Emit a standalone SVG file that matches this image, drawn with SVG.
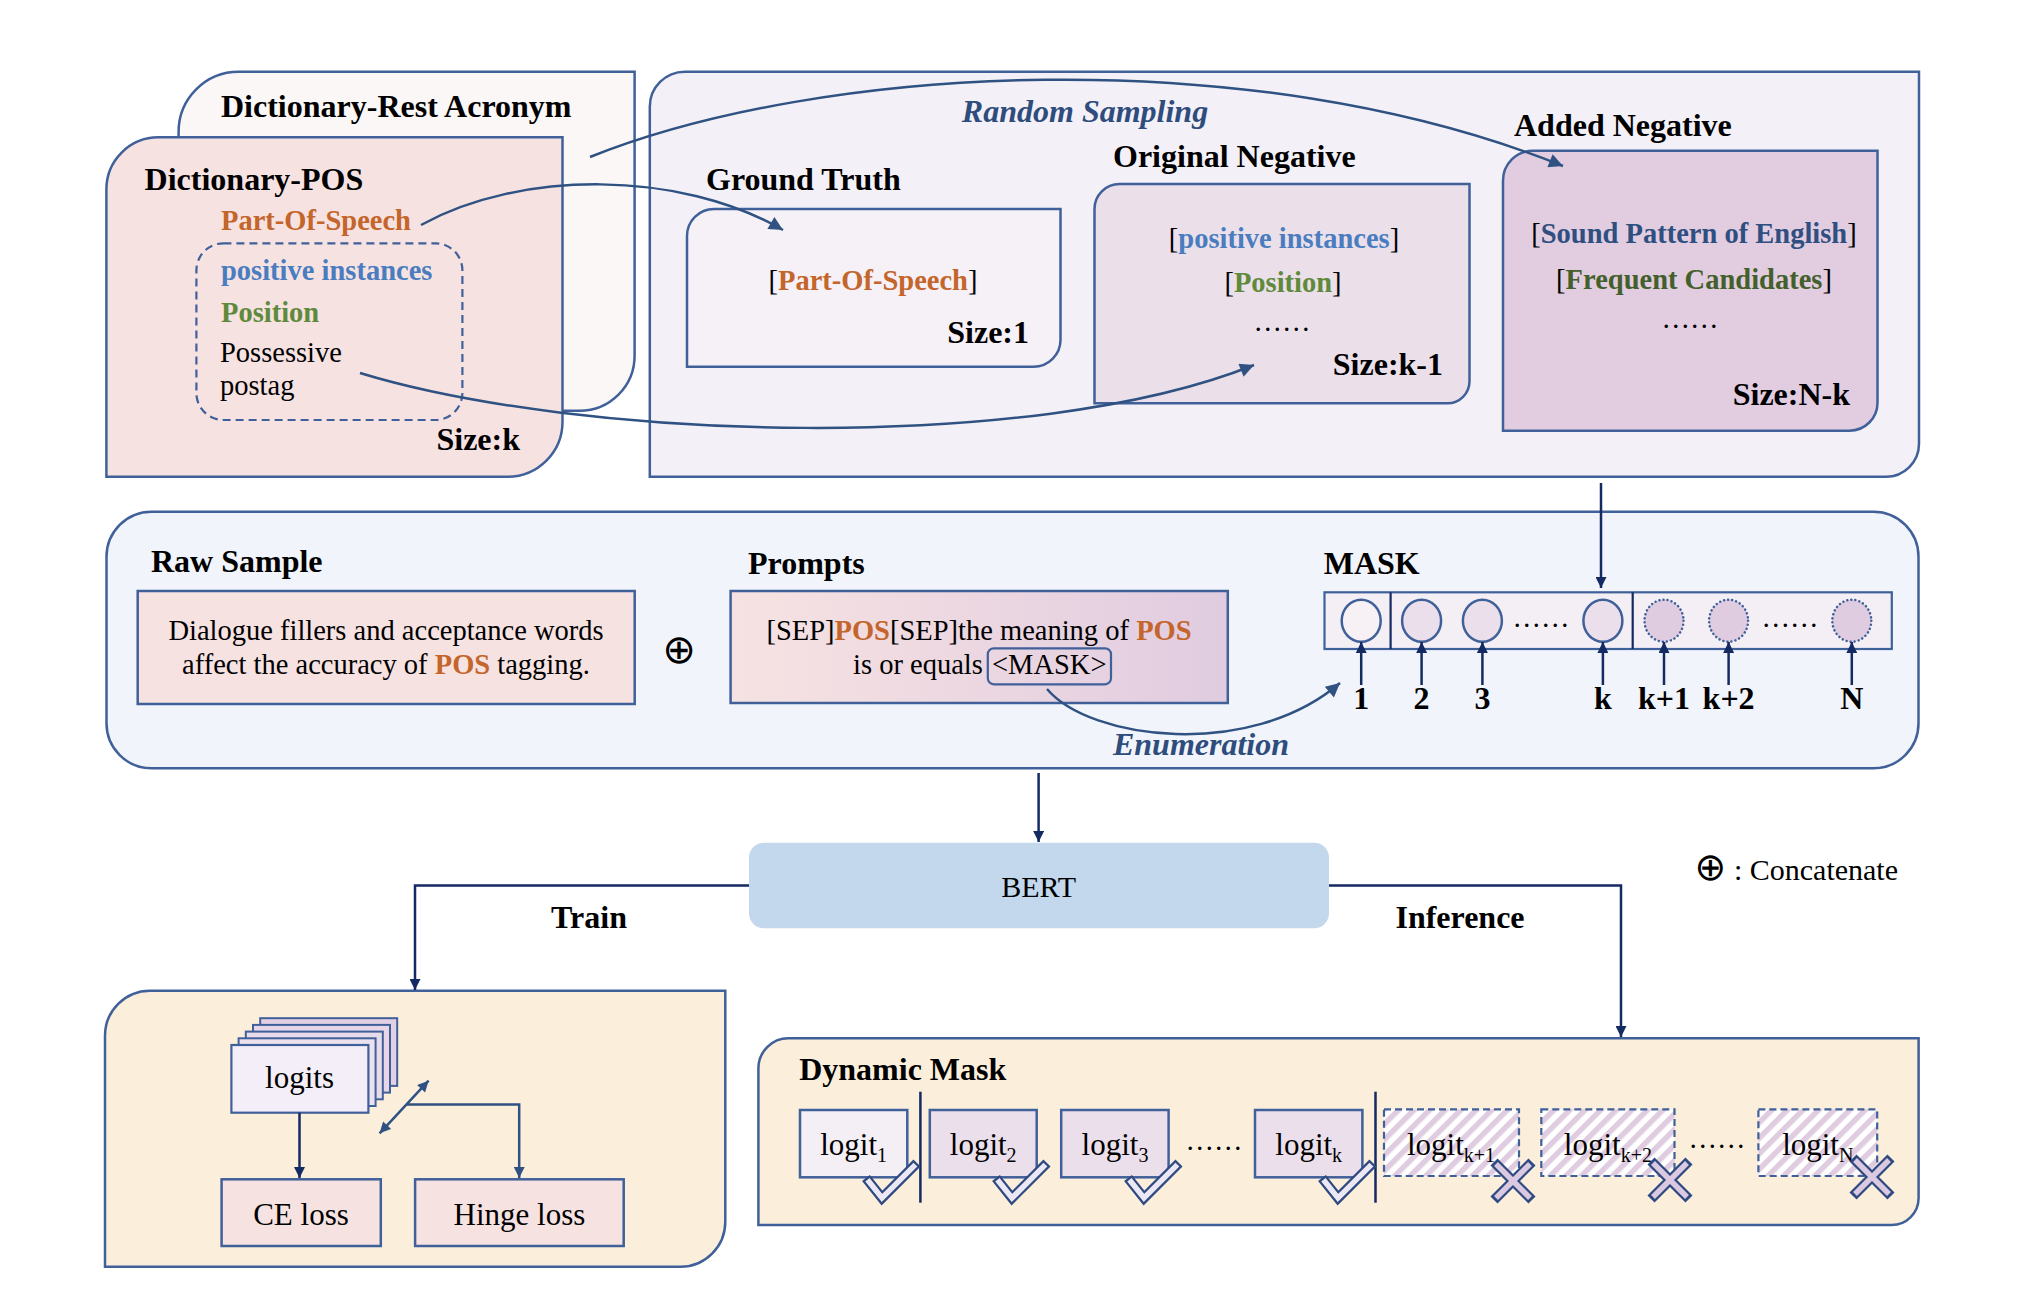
<svg xmlns="http://www.w3.org/2000/svg" width="2020" height="1310" viewBox="0 0 2020 1310">
<style>
text{font-family:"Liberation Serif","DejaVu Serif",serif;fill:#000}
.h{font-size:32px;font-weight:bold}
.t{font-size:28.5px}
.b{font-weight:bold}
.or{fill:#c4652b;font-weight:bold}
.bl{fill:#4a7dbf;font-weight:bold}
.gr{fill:#5f8a3c;font-weight:bold}
.db{fill:#2f4f80;font-weight:bold}
.dg{fill:#435f2b;font-weight:bold}
.it{fill:#2e4c7c;font-weight:bold;font-style:italic;font-size:32px}
.box{stroke:#40609a;stroke-width:2.5}
.c1{stroke:#2f5282;stroke-width:2.5;fill:none}
.nv{stroke:#142a63;stroke-width:2.5;fill:none}
.sub{font-size:20px}
.lg{font-size:31px}
.op{font-family:"DejaVu Sans",sans-serif}
.ck1{fill:none;stroke:#2f4a80;stroke-width:10;stroke-linejoin:miter}
.ck2{fill:none;stroke:#ece7f4;stroke-width:5.5;stroke-linejoin:miter}
.x2{fill:none;stroke:#dac9e0;stroke-width:5.5}
</style>
<defs>
<marker id="ah" viewBox="0 0 10 10" refX="10" refY="5" markerUnits="userSpaceOnUse" markerWidth="18" markerHeight="14" orient="auto"><path d="M0,0L10,5L0,10z" fill="#2f5282"/></marker>
<marker id="an" viewBox="0 0 10 10" refX="10" refY="5" markerUnits="userSpaceOnUse" markerWidth="14" markerHeight="11" orient="auto"><path d="M0,0L10,5L0,10z" fill="#142a63"/></marker>
<marker id="ab" viewBox="0 0 10 10" refX="10" refY="5" markerUnits="userSpaceOnUse" markerWidth="14" markerHeight="11" orient="auto-start-reverse"><path d="M0,0L10,5L0,10z" fill="#2f5282"/></marker>
<linearGradient id="pg" x1="0" x2="1" y1="0" y2="0"><stop offset="0" stop-color="#f7e2e2"/><stop offset="1" stop-color="#e0cce0"/></linearGradient>
<pattern id="hatch" width="11" height="11" patternUnits="userSpaceOnUse" patternTransform="rotate(45)"><rect width="11" height="11" fill="#ffffff"/><rect width="5.5" height="11" fill="#e0cce0"/></pattern>
<g id="check"><polyline class="ck1" points="-16,-20 0,0 35,-35"/><polyline class="ck2" points="-14.6,-18.3 0,0 33.4,-33.4"/></g>
<g id="cross"><path class="ck1" d="M-19,-19L19,19M-19,19L19,-19"/><path class="x2" d="M-17,-17L17,17M-17,17L17,-17"/></g>
</defs>

<rect width="2020" height="1310" fill="#ffffff"/>

<!-- Top left: dictionaries -->
<g id="dict-rest">
<path class="box" fill="#fbf7f7" d="M238.6,71.7H634.6V355.7A55,55 0 0 1 579.6,410.7H178.6V131.7A60,60 0 0 1 238.6,71.7Z"/>
<text class="h" x="221" y="117">Dictionary-Rest Acronym</text>
</g>
<g id="dict-pos">
<path class="box" fill="#f7e2e2" d="M158.4,137.3H562.5V421.7A55,55 0 0 1 507.5,476.7H106.4V189.3A52,52 0 0 1 158.4,137.3Z"/>
<text class="h" x="144.6" y="190">Dictionary-POS</text>
<text class="t or" x="221" y="230">Part-Of-Speech</text>
<rect x="196.4" y="243.3" width="266" height="176.7" rx="27" fill="none" stroke="#40609a" stroke-width="2.2" stroke-dasharray="8,5"/>
<text class="t bl" x="221" y="280">positive instances</text>
<text class="t gr" x="221" y="321.7">Position</text>
<text class="t" x="220" y="361.7">Possessive</text>
<text class="t" x="220" y="395">postag</text>
<text class="h" x="520" y="450" text-anchor="end">Size:k</text>
</g>

<!-- Random sampling container -->
<g id="sampling">
<path class="box" fill="#f3f1f7" d="M684.8,71.7H1919V443.7A33,33 0 0 1 1886,476.7H649.8V106.7A35,35 0 0 1 684.8,71.7Z"/>
<text class="it" x="1085" y="121.7" text-anchor="middle">Random Sampling</text>
</g>
<g id="ground-truth">
<text class="h" x="706" y="190">Ground Truth</text>
<path class="box" fill="#f5f1f7" d="M714,209H1060.5V339.7A27,27 0 0 1 1033.5,366.7H687V236A27,27 0 0 1 714,209Z"/>
<text class="t" x="873" y="290" text-anchor="middle">[<tspan class="or">Part-Of-Speech</tspan>]</text>
<text class="h" x="1029" y="343" text-anchor="end">Size:1</text>
</g>
<g id="original-negative">
<text class="h" x="1113" y="166.7">Original Negative</text>
<path class="box" fill="#ebe0ea" d="M1119.5,184H1469.5V381.3A22,22 0 0 1 1447.5,403.3H1094.5V209A25,25 0 0 1 1119.5,184Z"/>
<text class="t" x="1284" y="248" text-anchor="middle">[<tspan class="bl">positive instances</tspan>]</text>
<text class="t" x="1283" y="291.7" text-anchor="middle">[<tspan class="gr">Position</tspan>]</text>
<text class="t" x="1282" y="331" text-anchor="middle">……</text>
<text class="h" x="1443" y="375" text-anchor="end">Size:k-1</text>
</g>
<g id="added-negative">
<text class="h" x="1514" y="136">Added Negative</text>
<path class="box" fill="#e1cce0" d="M1533,150.7H1877.5V402.7A28,28 0 0 1 1849.5,430.7H1503V180.7A30,30 0 0 1 1533,150.7Z"/>
<text class="t" x="1694" y="242.7" text-anchor="middle">[<tspan class="db">Sound Pattern of English</tspan>]</text>
<text class="t" x="1694" y="289" text-anchor="middle">[<tspan class="dg">Frequent Candidates</tspan>]</text>
<text class="t" x="1690" y="328" text-anchor="middle">……</text>
<text class="h" x="1850" y="405" text-anchor="end">Size:N-k</text>
</g>

<!-- Middle container -->
<g id="input">
<rect class="box" x="106.5" y="511.7" width="1812" height="256.6" rx="45" fill="#f1f4fa"/>
</g>
<g id="raw-sample">
<text class="h" x="151" y="571.7">Raw Sample</text>
<rect class="box" x="137.7" y="591" width="497" height="113" fill="#f7e2e2"/>
<text class="t" x="386" y="640" text-anchor="middle">Dialogue fillers and acceptance words</text>
<text class="t" x="386" y="674" text-anchor="middle">affect the accuracy of <tspan class="or">POS</tspan> tagging.</text>
</g>
<g id="concat">
<text class="op" x="679" y="663" font-size="40" text-anchor="middle">⊕</text>
</g>
<g id="prompts">
<text class="h" x="748" y="574">Prompts</text>
<rect class="box" x="730.6" y="591" width="497.2" height="112" fill="url(#pg)"/>
<text class="t" x="979" y="640" text-anchor="middle">[SEP]<tspan class="or">POS</tspan>[SEP]the meaning of <tspan class="or">POS</tspan></text>
<text class="t" x="853" y="674">is or equals <tspan x="992">&lt;MASK&gt;</tspan></text>
<rect x="987.8" y="648.3" width="123.2" height="36" rx="6" fill="none" stroke="#40609a" stroke-width="2.2"/>
</g>
<g id="mask">
<text class="h" x="1323.7" y="574">MASK</text>
<rect x="1324.5" y="592.3" width="567.3" height="56.7" fill="#f3eff5" stroke="#40609a" stroke-width="2.2"/>
<line x1="1390.6" y1="592.3" x2="1390.6" y2="649" stroke="#142a63" stroke-width="2.2"/>
<line x1="1632.7" y1="592.3" x2="1632.7" y2="649" stroke="#142a63" stroke-width="2.2"/>
<ellipse cx="1361.2" cy="620.7" rx="19.5" ry="21" fill="#f7f0f5" stroke="#40609a" stroke-width="2.5"/>
<ellipse cx="1421.6" cy="620.7" rx="19.5" ry="21" fill="#ebdfeb" stroke="#40609a" stroke-width="2.5"/>
<ellipse cx="1482.4" cy="620.7" rx="19.5" ry="21" fill="#ebdfeb" stroke="#40609a" stroke-width="2.5"/>
<ellipse cx="1602.9" cy="620.7" rx="19.5" ry="21" fill="#ebdfeb" stroke="#40609a" stroke-width="2.5"/>
<ellipse cx="1664" cy="620.7" rx="19.5" ry="21" fill="#e0cce0" stroke="#40609a" stroke-width="2.5" stroke-dasharray="0.1,4" stroke-linecap="round"/>
<ellipse cx="1728.6" cy="620.7" rx="19.5" ry="21" fill="#e0cce0" stroke="#40609a" stroke-width="2.5" stroke-dasharray="0.1,4" stroke-linecap="round"/>
<ellipse cx="1851.8" cy="620.7" rx="19.5" ry="21" fill="#e0cce0" stroke="#40609a" stroke-width="2.5" stroke-dasharray="0.1,4" stroke-linecap="round"/>
<text class="t" x="1541" y="627" text-anchor="middle">……</text>
<text class="t" x="1790" y="627" text-anchor="middle">……</text>
<text class="h" x="1361.2" y="709.3" text-anchor="middle">1</text>
<text class="h" x="1421.6" y="709.3" text-anchor="middle">2</text>
<text class="h" x="1482.4" y="709.3" text-anchor="middle">3</text>
<text class="h" x="1602.9" y="709.3" text-anchor="middle">k</text>
<text class="h" x="1664" y="709.3" text-anchor="middle">k+1</text>
<text class="h" x="1728.6" y="709.3" text-anchor="middle">k+2</text>
<text class="h" x="1851.8" y="709.3" text-anchor="middle">N</text>
</g>

<!-- BERT -->
<g id="bert">
<rect x="749" y="842.7" width="580" height="85.6" rx="15" fill="#c3d8ec"/>
<text x="1038.6" y="897" font-size="30" text-anchor="middle">BERT</text>
</g>
<g id="legend">
<text x="1898" y="880" font-size="30" text-anchor="end"><tspan class="op" font-size="38">⊕</tspan> : Concatenate</text>
</g>

<!-- Train -->
<g id="train">
<path class="box" fill="#fbefdc" d="M150,990.7H725.3V1221.7A45,45 0 0 1 680.3,1266.7H105V1035.7A45,45 0 0 1 150,990.7Z"/>
<rect x="260.2" y="1018.2" width="137" height="67.7" fill="#e3d0e5" stroke="#40609a" stroke-width="2"/>
<rect x="253" y="1024.9" width="137" height="67.7" fill="#e6d6e8" stroke="#40609a" stroke-width="2"/>
<rect x="245.8" y="1031.6" width="137" height="67.7" fill="#e9dcea" stroke="#40609a" stroke-width="2"/>
<rect x="238.6" y="1038.3" width="137" height="67.7" fill="#ece2ee" stroke="#40609a" stroke-width="2"/>
<rect x="231.4" y="1045" width="137" height="67.7" fill="#f3eef7" stroke="#40609a" stroke-width="2.2"/>
<text class="lg" x="299.5" y="1088" text-anchor="middle">logits</text>
</g>
<g id="ce-loss">
<rect class="box" x="221.6" y="1179.3" width="159.2" height="66.7" fill="#f7e2e2"/>
<text class="lg" x="301" y="1225" text-anchor="middle">CE loss</text>
</g>
<g id="hinge-loss">
<rect class="box" x="415.1" y="1179.3" width="208.6" height="66.7" fill="#f7e2e2"/>
<text class="lg" x="519.4" y="1225" text-anchor="middle">Hinge loss</text>
</g>

<!-- Inference / Dynamic mask -->
<g id="dynamic-mask">
<path class="box" fill="#fbefdc" d="M788.4,1038.3H1918.6V1198A27,27 0 0 1 1891.6,1225H758.4V1068.3A30,30 0 0 1 788.4,1038.3Z"/>
<text class="h" x="799.2" y="1080">Dynamic Mask</text>
<line x1="920.4" y1="1091.7" x2="920.4" y2="1202.7" stroke="#142a63" stroke-width="2.5"/>
<line x1="1375.5" y1="1091.7" x2="1375.5" y2="1202.7" stroke="#142a63" stroke-width="2.5"/>
<g id="logit1"><rect class="box" x="800" y="1110" width="107.3" height="67.3" fill="#f3eff5"/>
<text class="lg" x="853.6" y="1155" text-anchor="middle">logit<tspan class="sub" dy="7">1</tspan></text>
<use href="#check" x="882" y="1198"/></g>
<g id="logit2"><rect class="box" x="929.8" y="1110" width="106.9" height="67.3" fill="#ebdfeb"/>
<text class="lg" x="983.2" y="1155" text-anchor="middle">logit<tspan class="sub" dy="7">2</tspan></text>
<use href="#check" x="1012" y="1198"/></g>
<g id="logit3"><rect class="box" x="1061.2" y="1110" width="107.4" height="67.3" fill="#ebdfeb"/>
<text class="lg" x="1115" y="1155" text-anchor="middle">logit<tspan class="sub" dy="7">3</tspan></text>
<use href="#check" x="1144" y="1198"/></g>
<text class="t" x="1214" y="1150" text-anchor="middle">……</text>
<g id="logitk"><rect class="box" x="1255" y="1110" width="107.4" height="67.3" fill="#ebdfeb"/>
<text class="lg" x="1308.7" y="1155" text-anchor="middle">logit<tspan class="sub" dy="7">k</tspan></text>
<use href="#check" x="1338" y="1198"/></g>
<g id="logitk1"><rect x="1384" y="1109.3" width="135" height="66.7" fill="url(#hatch)" stroke="#40609a" stroke-width="2.2" stroke-dasharray="7,4"/>
<text class="lg" x="1451" y="1155" text-anchor="middle">logit<tspan class="sub" dy="7">k+1</tspan></text>
<use href="#cross" x="1513" y="1181"/></g>
<g id="logitk2"><rect x="1541.3" y="1109.3" width="133.2" height="66.7" fill="url(#hatch)" stroke="#40609a" stroke-width="2.2" stroke-dasharray="7,4"/>
<text class="lg" x="1607.9" y="1155" text-anchor="middle">logit<tspan class="sub" dy="7">k+2</tspan></text>
<use href="#cross" x="1670" y="1180"/></g>
<text class="t" x="1717" y="1148" text-anchor="middle">……</text>
<g id="logitN"><rect x="1758.4" y="1109.3" width="118.8" height="66.7" fill="url(#hatch)" stroke="#40609a" stroke-width="2.2" stroke-dasharray="7,4"/>
<text class="lg" x="1817.8" y="1155" text-anchor="middle">logit<tspan class="sub" dy="7">N</tspan></text>
<use href="#cross" x="1872" y="1177"/></g>
</g>

<!-- Connectors -->
<g id="connectors">
<path class="c1" d="M590,157C820,65 1250,40 1563,166" marker-end="url(#ah)"/>
<path class="c1" d="M421,225C520,170 680,170 783,230" marker-end="url(#ah)"/>
<path class="c1" d="M360,373C580,440 1030,455 1254,365" marker-end="url(#ah)"/>
<path class="c1" d="M1047,689C1090,740 1250,760 1340,683" marker-end="url(#ah)"/>
<text class="it" x="1201" y="755" text-anchor="middle">Enumeration</text>
<line class="nv" x1="1601" y1="483" x2="1601" y2="588" marker-end="url(#an)"/>
<line class="nv" x1="1361.2" y1="685" x2="1361.2" y2="642" marker-end="url(#an)"/>
<line class="nv" x1="1421.6" y1="685" x2="1421.6" y2="642" marker-end="url(#an)"/>
<line class="nv" x1="1482.4" y1="685" x2="1482.4" y2="642" marker-end="url(#an)"/>
<line class="nv" x1="1602.9" y1="685" x2="1602.9" y2="642" marker-end="url(#an)"/>
<line class="nv" x1="1664" y1="685" x2="1664" y2="642" marker-end="url(#an)"/>
<line class="nv" x1="1728.6" y1="685" x2="1728.6" y2="642" marker-end="url(#an)"/>
<line class="nv" x1="1851.8" y1="685" x2="1851.8" y2="642" marker-end="url(#an)"/>
<line class="nv" x1="1038.6" y1="773" x2="1038.6" y2="842" marker-end="url(#an)"/>
<polyline class="nv" points="749,885.5 415,885.5 415,990" marker-end="url(#an)"/>
<text class="h" x="589" y="928" text-anchor="middle">Train</text>
<polyline class="nv" points="1329,885.5 1621,885.5 1621,1037" marker-end="url(#an)"/>
<text class="h" x="1460" y="928" text-anchor="middle">Inference</text>
<line class="nv" x1="299.5" y1="1112.7" x2="299.5" y2="1178" marker-end="url(#an)"/>
<polyline class="c1" points="407,1104.5 519.2,1104.5 519.2,1178" marker-end="url(#ab)"/>
<line class="c1" x1="379.6" y1="1133.3" x2="428.6" y2="1080.7" marker-start="url(#ab)" marker-end="url(#ab)"/>
</g>
</svg>
